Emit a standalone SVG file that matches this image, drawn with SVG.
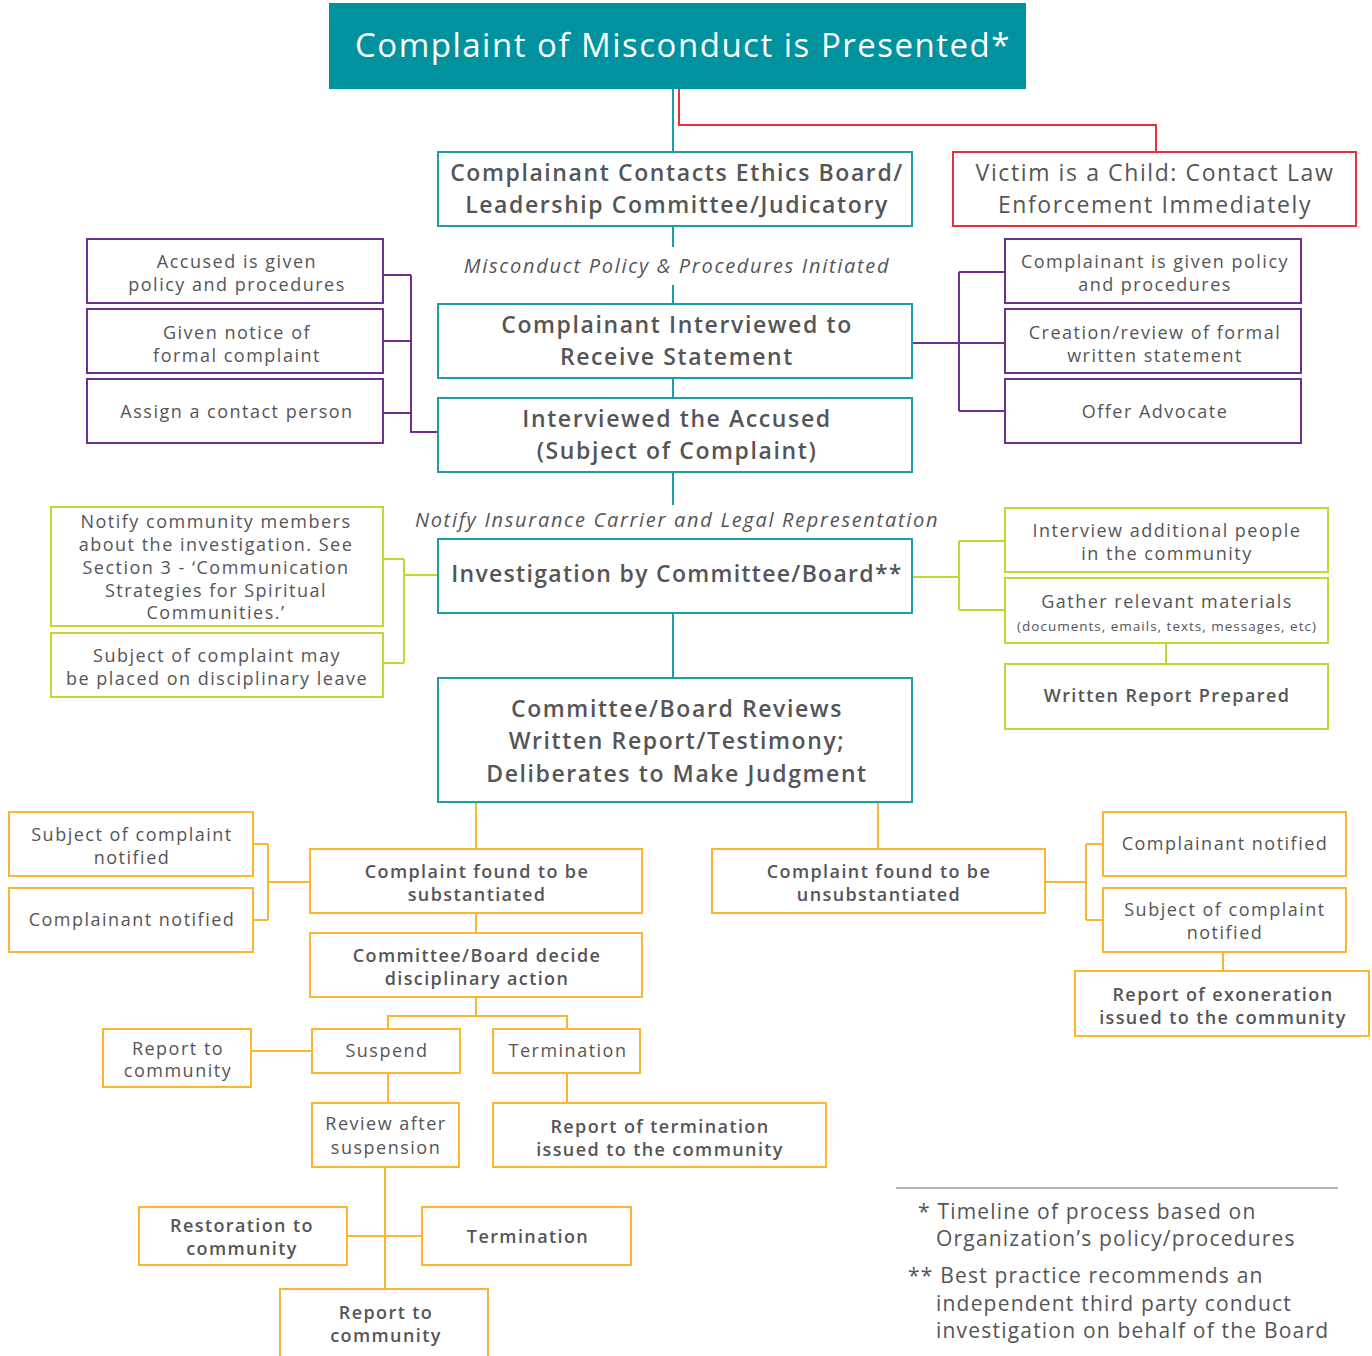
<svg xmlns="http://www.w3.org/2000/svg" width="1372" height="1356" viewBox="0 0 1372 1356">
<style>
text{font-family:"Open Sans","Liberation Sans",sans-serif;fill:#555557;text-anchor:middle}
.h{fill:#ffffff;font-size:33px;letter-spacing:1.5px}
.l{font-size:23px;letter-spacing:1.6px}
.lb{font-size:23px;font-weight:600;letter-spacing:1.6px}
.it{font-size:20px;font-style:italic;letter-spacing:1.7px}
.s{font-size:18px;letter-spacing:1.5px}
.sb{font-size:18px;font-weight:600;letter-spacing:1.4px}
.xs{font-size:13.5px;letter-spacing:1px}
.fn{font-size:21px;text-anchor:start;letter-spacing:1.2px}
rect{fill:#fff;stroke-width:2}
.teal{stroke:#1e9ca7}
.red{stroke:#e8313a}
.pur{stroke:#6b3090}
.lim{stroke:#c5d531}
.org{stroke:#fbb52f}
#connectors path{fill:none;stroke-width:2}
</style>
<rect width="1372" height="1356" fill="#fff" stroke="none"/>
<g id="connectors">
<path class="teal" d="M673 89V152M673 226V247M673 285V304M673 378V398M673 472V505M673 613V678"/>
<path class="red" d="M679 89V125H1156V152"/>
<path class="pur" d="M383 275H411M383 341H411M383 413H411M411 275V432H438"/>
<path class="pur" d="M912 343H1005M959 272V411M959 272H1005M959 411H1005"/>
<path class="lim" d="M383 559H404M383 663H404M404 559V663M404 575H438"/>
<path class="lim" d="M912 577H959M959 541V610M959 541H1005M959 610H1005M1166 643V664"/>
<path class="org" d="M476 802V849M878 802V849"/>
<path class="org" d="M253 844H268M253 920H268M268 844V920M268 882H310"/>
<path class="org" d="M1045 882H1086M1086 844V920M1086 844H1103M1086 920H1103M1223 952V971"/>
<path class="org" d="M476 913V933M476 997V1016M388 1029V1016H567V1029"/>
<path class="org" d="M251 1051H312M388 1073V1103M567 1073V1103M385 1167V1289M347 1236H422"/>
</g>
<g id="header">
<rect x="329" y="3" width="697" height="86" style="fill:#00929f;stroke:none"/>
<text class="h" x="683" y="57">Complaint of Misconduct is Presented*</text>
</g>
<g id="contacts">
<rect class="teal" x="438" y="152" width="474" height="74"/>
<text class="lb" x="677" y="181">Complainant Contacts Ethics Board/</text>
<text class="lb" x="677" y="213">Leadership Committee/Judicatory</text>
</g>
<g id="victim">
<rect class="red" x="953" y="152" width="403" height="74"/>
<text class="l" x="1155" y="181">Victim is a Child: Contact Law</text>
<text class="l" x="1155" y="213">Enforcement Immediately</text>
</g>
<g id="policy-label">
<text class="it" x="677" y="273">Misconduct Policy &amp; Procedures Initiated</text>
</g>
<g id="interviewed-complainant">
<rect class="teal" x="438" y="304" width="474" height="74"/>
<text class="lb" x="677" y="333">Complainant Interviewed to</text>
<text class="lb" x="677" y="365">Receive Statement</text>
</g>
<g id="interviewed-accused">
<rect class="teal" x="438" y="398" width="474" height="74"/>
<text class="lb" x="677" y="427">Interviewed the Accused</text>
<text class="lb" x="677" y="459">(Subject of Complaint)</text>
</g>
<g id="accused-policy">
<rect class="pur" x="87" y="239" width="296" height="64"/>
<text class="s" x="237" y="268">Accused is given</text>
<text class="s" x="237" y="291">policy and procedures</text>
</g>
<g id="notice">
<rect class="pur" x="87" y="309" width="296" height="64"/>
<text class="s" x="237" y="339">Given notice of</text>
<text class="s" x="237" y="362">formal complaint</text>
</g>
<g id="contact-person">
<rect class="pur" x="87" y="379" width="296" height="64"/>
<text class="s" x="237" y="418">Assign a contact person</text>
</g>
<g id="complainant-policy">
<rect class="pur" x="1005" y="239" width="296" height="64"/>
<text class="s" x="1155" y="268">Complainant is given policy</text>
<text class="s" x="1155" y="291">and procedures</text>
</g>
<g id="written-statement">
<rect class="pur" x="1005" y="309" width="296" height="64"/>
<text class="s" x="1155" y="339">Creation/review of formal</text>
<text class="s" x="1155" y="362">written statement</text>
</g>
<g id="advocate">
<rect class="pur" x="1005" y="379" width="296" height="64"/>
<text class="s" x="1155" y="418">Offer Advocate</text>
</g>
<g id="insurance-label">
<text class="it" x="677" y="527">Notify Insurance Carrier and Legal Representation</text>
</g>
<g id="investigation">
<rect class="teal" x="438" y="539" width="474" height="74"/>
<text class="lb" x="677" y="582" style="letter-spacing:1.3px">Investigation by Committee/Board**</text>
</g>
<g id="notify-community">
<rect class="lim" x="51" y="507" width="332" height="119"/>
<text class="s" x="216" y="528">Notify community members</text>
<text class="s" x="216" y="551">about the investigation. See</text>
<text class="s" x="216" y="574">Section 3 - ‘Communication</text>
<text class="s" x="216" y="597">Strategies for Spiritual</text>
<text class="s" x="216" y="619">Communities.’</text>
</g>
<g id="leave">
<rect class="lim" x="51" y="633" width="332" height="64"/>
<text class="s" x="217" y="662">Subject of complaint may</text>
<text class="s" x="217" y="685">be placed on disciplinary leave</text>
</g>
<g id="interview-people">
<rect class="lim" x="1005" y="508" width="323" height="64"/>
<text class="s" x="1167" y="537">Interview additional people</text>
<text class="s" x="1167" y="560">in the community</text>
</g>
<g id="gather">
<rect class="lim" x="1005" y="578" width="323" height="65"/>
<text class="s" x="1167" y="608">Gather relevant materials</text>
<text class="xs" x="1167" y="631">(documents, emails, texts, messages, etc)</text>
</g>
<g id="written-report">
<rect class="lim" x="1005" y="664" width="323" height="65"/>
<text class="sb" x="1167" y="702">Written Report Prepared</text>
</g>
<g id="reviews">
<rect class="teal" x="438" y="678" width="474" height="124"/>
<text class="lb" x="677" y="717">Committee/Board Reviews</text>
<text class="lb" x="677" y="749">Written Report/Testimony;</text>
<text class="lb" x="677" y="782">Deliberates to Make Judgment</text>
</g>
<g id="substantiated">
<rect class="org" x="310" y="849" width="332" height="64"/>
<text class="sb" x="477" y="878">Complaint found to be</text>
<text class="sb" x="477" y="901">substantiated</text>
</g>
<g id="unsubstantiated">
<rect class="org" x="712" y="849" width="333" height="64"/>
<text class="sb" x="879" y="878">Complaint found to be</text>
<text class="sb" x="879" y="901">unsubstantiated</text>
</g>
<g id="subject-notified-left">
<rect class="org" x="9" y="812" width="244" height="64"/>
<text class="s" x="132" y="841">Subject of complaint</text>
<text class="s" x="132" y="864">notified</text>
</g>
<g id="complainant-notified-left">
<rect class="org" x="9" y="888" width="244" height="64"/>
<text class="s" x="132" y="926">Complainant notified</text>
</g>
<g id="complainant-notified-right">
<rect class="org" x="1103" y="812" width="243" height="64"/>
<text class="s" x="1225" y="850">Complainant notified</text>
</g>
<g id="subject-notified-right">
<rect class="org" x="1103" y="888" width="243" height="64"/>
<text class="s" x="1225" y="916">Subject of complaint</text>
<text class="s" x="1225" y="939">notified</text>
</g>
<g id="exoneration">
<rect class="org" x="1075" y="971" width="294" height="65"/>
<text class="sb" x="1223" y="1001">Report of exoneration</text>
<text class="sb" x="1223" y="1024">issued to the community</text>
</g>
<g id="disciplinary">
<rect class="org" x="310" y="933" width="332" height="64"/>
<text class="sb" x="477" y="962">Committee/Board decide</text>
<text class="sb" x="477" y="985">disciplinary action</text>
</g>
<g id="suspend">
<rect class="org" x="312" y="1029" width="148" height="44"/>
<text class="s" x="387" y="1057">Suspend</text>
</g>
<g id="termination1">
<rect class="org" x="493" y="1029" width="147" height="44"/>
<text class="s" x="568" y="1057">Termination</text>
</g>
<g id="report-community1">
<rect class="org" x="103" y="1029" width="148" height="58"/>
<text class="s" x="178" y="1055">Report to</text>
<text class="s" x="178" y="1077">community</text>
</g>
<g id="review-suspension">
<rect class="org" x="312" y="1103" width="147" height="64"/>
<text class="s" x="386" y="1130">Review after</text>
<text class="s" x="386" y="1154">suspension</text>
</g>
<g id="termination-report">
<rect class="org" x="493" y="1103" width="333" height="64"/>
<text class="sb" x="660" y="1133">Report of termination</text>
<text class="sb" x="660" y="1156">issued to the community</text>
</g>
<g id="restoration">
<rect class="org" x="139" y="1207" width="208" height="58"/>
<text class="sb" x="242" y="1232">Restoration to</text>
<text class="sb" x="242" y="1255">community</text>
</g>
<g id="termination2">
<rect class="org" x="422" y="1207" width="209" height="58"/>
<text class="sb" x="528" y="1243">Termination</text>
</g>
<g id="report-community2">
<rect class="org" x="280" y="1289" width="208" height="80"/>
<text class="sb" x="386" y="1319">Report to</text>
<text class="sb" x="386" y="1342">community</text>
</g>
<g id="footnotes">
<path d="M896 1188H1338" stroke="#666" stroke-width="1.2" fill="none"/>
<text class="fn" x="918" y="1219">* Timeline of process based on</text>
<text class="fn" x="936" y="1246">Organization’s policy/procedures</text>
<text class="fn" x="908" y="1283">** Best practice recommends an</text>
<text class="fn" x="936" y="1311">independent third party conduct</text>
<text class="fn" x="936" y="1338">investigation on behalf of the Board</text>
</g>
</svg>
